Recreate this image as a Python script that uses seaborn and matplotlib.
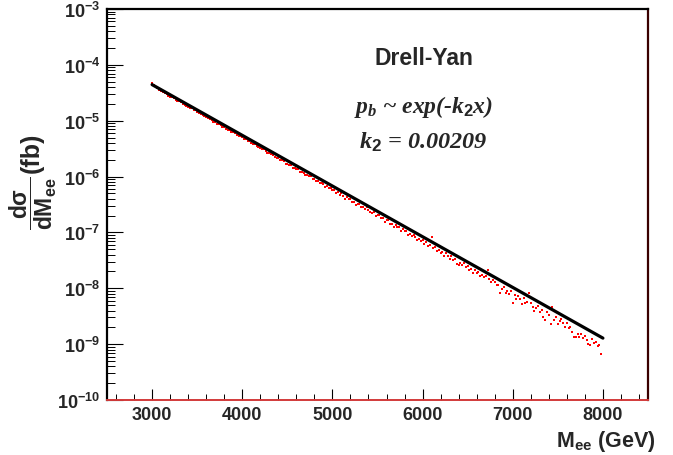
import numpy as np
import pandas as pd
import matplotlib
matplotlib.use("Agg")
import matplotlib.pyplot as plt
import seaborn as sns
from matplotlib.ticker import LogLocator, MultipleLocator, NullFormatter, LogFormatterSciNotation

# ---- Drell-Yan dielectron mass spectrum (20 GeV bins from 3000 GeV) ----
bin_start = 3000.0
bin_width = 20.0
log10_dsigma = [
    -4.33, -4.36, -4.39, -4.42, -4.45, -4.47, -4.49, -4.50, -4.53, -4.55,
    -4.57, -4.57, -4.60, -4.63, -4.64, -4.65, -4.67, -4.70, -4.71, -4.73,
    -4.75, -4.77, -4.78, -4.80, -4.81, -4.85, -4.86, -4.88, -4.89, -4.91,
    -4.94, -4.95, -4.97, -4.99, -5.02, -5.02, -5.05, -5.06, -5.08, -5.11,
    -5.11, -5.14, -5.16, -5.16, -5.20, -5.21, -5.22, -5.26, -5.27, -5.28,
    -5.30, -5.33, -5.33, -5.36, -5.37, -5.40, -5.41, -5.42, -5.46, -5.47,
    -5.49, -5.50, -5.51, -5.55, -5.58, -5.57, -5.60, -5.61, -5.65, -5.66,
    -5.67, -5.70, -5.71, -5.72, -5.77, -5.77, -5.79, -5.79, -5.84, -5.84,
    -5.87, -5.86, -5.91, -5.91, -5.94, -5.98, -5.97, -5.99, -5.99, -6.04,
    -6.04, -6.08, -6.08, -6.12, -6.11, -6.14, -6.19, -6.17, -6.20, -6.21,
    -6.24, -6.24, -6.29, -6.28, -6.33, -6.30, -6.35, -6.40, -6.37, -6.41,
    -6.40, -6.45, -6.45, -6.51, -6.49, -6.49, -6.55, -6.54, -6.58, -6.55,
    -6.59, -6.64, -6.65, -6.64, -6.71, -6.69, -6.68, -6.75, -6.74, -6.81,
    -6.78, -6.78, -6.85, -6.85, -6.91, -6.86, -6.91, -6.91, -6.97, -6.93,
    -6.98, -6.97, -7.04, -7.02, -7.06, -7.04, -7.08, -7.13, -7.11, -7.15,
    -7.14, -7.20, -7.18, -7.25, -7.23, -7.08, -7.28, -7.26, -7.33, -7.32,
    -7.36, -7.35, -7.43, -7.36, -7.42, -7.47, -7.43, -7.49, -7.48, -7.56,
    -7.59, -7.54, -7.59, -7.55, -7.61, -7.60, -7.67, -7.66, -7.72, -7.68,
    -7.72, -7.70, -7.78, -7.76, -7.79, -7.78, -7.68, -7.84, -7.88, -7.85,
    -7.88, -7.94, -7.94, -8.09, -8.02, -7.98, -8.09, -8.04, -8.10, -8.04,
    -8.27, -8.12, -8.19, -8.14, -8.20, -8.28, -8.18, -8.27, -8.25, -8.08,
    -8.27, -8.33, -8.40, -8.35, -8.32, -8.43, -8.39, -8.51, -8.56, -8.42,
    -8.47, -8.64, -8.34, -8.56, -8.52, -8.64, -8.59, -8.55, -8.63, -8.69,
    -8.63, -8.71, -8.69, -8.78, -8.88, -8.87, -8.82, -8.88, -8.82, -8.89,
    -8.86, -8.93, -9.00, -9.01, -8.90, -8.98, -8.96, -9.04, -9.02, -9.17,
]

# exponential fit p_b ~ exp(-k2 x) over 3000-8000 GeV
k2 = 0.00209
fit_norm = 0.0234
fit_range = (3000.0, 8000.0)

x_limits = (2500, 8500)
y_limits = (1e-10, 1e-3)

mass = bin_start + bin_width * np.arange(len(log10_dsigma))
spectrum = pd.DataFrame({"mass": mass, "dsigma": 10.0 ** np.asarray(log10_dsigma)})
fit_x = np.linspace(fit_range[0], fit_range[1], 300)
fit = pd.DataFrame({"mass": fit_x, "dsigma": fit_norm * np.exp(-k2 * fit_x)})

sns.set_style("white")
plt.rcParams["font.family"] = ["Liberation Sans", "DejaVu Sans"]
plt.rcParams["font.weight"] = "bold"
plt.rcParams["axes.unicode_minus"] = False
plt.rcParams["mathtext.fontset"] = "custom"
plt.rcParams["mathtext.rm"] = "Liberation Sans:bold"
plt.rcParams["mathtext.bf"] = "Liberation Sans:bold"
plt.rcParams["mathtext.sf"] = "Liberation Sans:bold"
plt.rcParams["mathtext.it"] = "Liberation Serif:italic:bold"

fig = plt.figure(figsize=(6.73, 4.56), dpi=100)
ax = fig.add_axes([107 / 673, 1 - 401 / 456, 541 / 673, 391 / 456])

sns.scatterplot(data=spectrum, x="mass", y="dsigma", marker="s", s=4,
                color="#ff0000", linewidth=0, ax=ax, zorder=2, legend=False)
sns.lineplot(data=fit, x="mass", y="dsigma", color="black", linewidth=2.3,
             ax=ax, zorder=3, legend=False)

ax.set_yscale("log")
ax.set_xlim(*x_limits)
ax.set_ylim(*y_limits)

ax.yaxis.set_major_locator(LogLocator(base=10, numticks=20))
ax.yaxis.set_minor_locator(LogLocator(base=10, subs=np.arange(2, 10), numticks=20))
ax.yaxis.set_minor_formatter(NullFormatter())
ax.yaxis.set_major_formatter(LogFormatterSciNotation())
ax.xaxis.set_major_locator(MultipleLocator(1000))
ax.xaxis.set_minor_locator(MultipleLocator(200))

ax.tick_params(which="both", direction="in", bottom=True, left=True,
               top=False, right=False, color="black", labelsize=13)
ax.tick_params(axis="y", which="major", length=11.5, width=0.8, pad=5)
ax.tick_params(axis="y", which="minor", length=5.8, width=0.7)
ax.tick_params(axis="x", which="major", length=8, width=0.8, pad=4)
ax.tick_params(axis="x", which="minor", length=4, width=0.7)
for lbl in ax.get_xticklabels() + ax.get_yticklabels():
    lbl.set_fontweight("bold")

for side in ("left", "top"):
    ax.spines[side].set_color("black")
    ax.spines[side].set_linewidth(1.6)
ax.spines["right"].set_color("#3a0000")
ax.spines["right"].set_linewidth(1.6)
ax.spines["bottom"].set_color("#d23a3a")
ax.spines["bottom"].set_linewidth(1.4)

# y title: the differential cross-section fraction, followed by its unit
ax.set_xlabel("")
ax.xaxis.label.set_visible(False)
ax.set_ylabel(r"$\dfrac{\mathbf{d\sigma}}{\mathbf{dM_{ee}}}$",
              fontsize=16.5, fontweight="bold")
ax.yaxis.set_label_coords(-0.088, 0.506)
fig.text(32 / 673, 1 - 153 / 456, "(fb)", rotation=90, ha="center",
         va="center", fontsize=18, fontweight="bold")

fig.text(656 / 673, 1 - 447 / 456, r"$\mathbf{M_{ee}}$ (GeV)", ha="right",
         va="baseline", fontsize=15.5, fontweight="bold")

ax.text(0.585, 0.877, "Drell-Yan", transform=ax.transAxes, ha="center",
        va="center", fontsize=16.5, fontweight="bold")
ax.text(0.585, 0.752, r"$p_b$ ~ exp(-$k_{\mathit{2}}$x)", transform=ax.transAxes,
        ha="center", va="center", fontsize=17, family="Liberation Serif",
        fontweight="bold", fontstyle="italic")
ax.text(0.585, 0.662, r"$k_{\mathit{2}}$ = 0.00209", transform=ax.transAxes,
        ha="center", va="center", fontsize=17.5, family="Liberation Serif",
        fontweight="bold", fontstyle="italic")

fig.savefig("out.png", dpi=100, facecolor="white")
